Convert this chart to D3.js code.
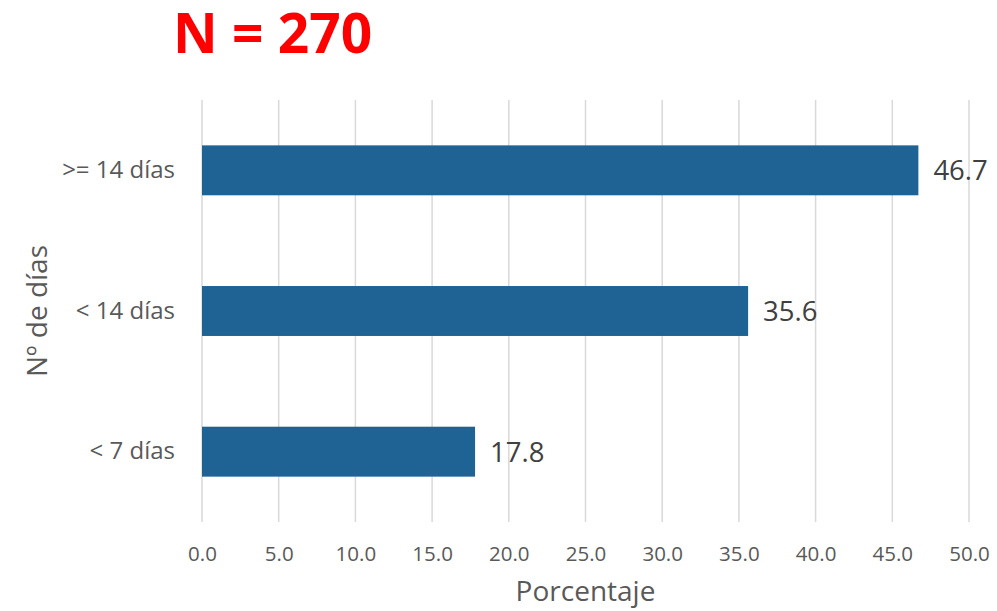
<!DOCTYPE html>
<html>
<head>
<meta charset="utf-8">
<script src="https://cdn.jsdelivr.net/npm/d3@7"></script>
<style>
  body { margin: 0; background: #fff; }
  svg { display: block; }
</style>
</head>
<body>
<svg id="chart" width="997" height="611"></svg>
<script>
document.addEventListener("DOMContentLoaded", function() {

    // Data
    const categories = [">= 14 días", "< 14 días", "< 7 días"];
    const values = [46.7, 35.6, 17.8];
    const xTicks = [0, 5, 10, 15, 20, 25, 30, 35, 40, 45, 50];
    const titleText = "N = 270";
    const xTitle = "Porcentaje";
    const yTitle = "Nº de días";

    // Display settings
    const plot = {left: 202, right: 969, top: 100, bottom: 522};
    const textColor = "#595959";
    const gridColor = "#d9d9d9";
    const barColor = "#1e6394";
    const font = "'Open Sans', sans-serif";

    const svg = d3.select("#chart");

    // Scales
    const x = d3.scaleLinear().domain([0, 50]).range([plot.left, plot.right]);
    const y = d3.scaleBand()
        .domain(categories)
        .range([plot.top, plot.bottom])
        .paddingInner(0.645)
        .paddingOuter(0.3225);

    // Gridlines
    svg.append("g")
        .selectAll("line")
        .data(xTicks)
        .join("line")
        .attr("x1", d => x(d))
        .attr("x2", d => x(d))
        .attr("y1", plot.top)
        .attr("y2", plot.bottom)
        .attr("stroke", gridColor)
        .attr("stroke-width", 1.5);

    // X tick labels
    const xAxis = svg.append("g")
        .attr("transform", `translate(0,${plot.bottom})`)
        .call(d3.axisBottom(x).tickValues(xTicks).tickFormat(d3.format(".1f")).tickSize(0).tickPadding(24));
    xAxis.select(".domain").remove();
    xAxis.selectAll("text")
        .attr("fill", textColor)
        .style("font-family", font)
        .style("font-size", "20.5px");

    // Y category labels
    const yAxis = svg.append("g")
        .attr("transform", `translate(${plot.left},0)`)
        .call(d3.axisLeft(y).tickSize(0).tickPadding(27));
    yAxis.select(".domain").remove();
    yAxis.selectAll("text")
        .attr("fill", textColor)
        .style("font-family", font)
        .style("font-size", "24px");

    // Bars
    const data = categories.map((c, i) => ({category: c, value: values[i]}));
    svg.append("g")
        .selectAll("rect")
        .data(data)
        .join("rect")
        .attr("x", x(0))
        .attr("y", d => y(d.category))
        .attr("width", d => x(d.value) - x(0))
        .attr("height", y.bandwidth())
        .attr("fill", barColor);

    // Value labels
    svg.append("g")
        .selectAll("text")
        .data(data)
        .join("text")
        .attr("x", d => x(d.value) + 15)
        .attr("y", d => y(d.category) + y.bandwidth() / 2)
        .attr("dy", "0.36em")
        .attr("fill", "#404040")
        .style("font-family", font)
        .style("font-size", "27.5px")
        .text(d => d.value.toFixed(1));

    // Title
    svg.append("text")
        .attr("x", 173)
        .attr("y", 53)
        .attr("fill", "#ff0000")
        .style("font-family", font)
        .style("font-weight", "bold")
        .style("font-size", "55px")
        .text(titleText);

    // Axis titles
    svg.append("text")
        .attr("x", (plot.left + plot.right) / 2)
        .attr("y", 601)
        .attr("text-anchor", "middle")
        .attr("fill", textColor)
        .style("font-family", font)
        .style("font-size", "28px")
        .text(xTitle);

    svg.append("text")
        .attr("transform", `translate(47,311) rotate(-90)`)
        .attr("text-anchor", "middle")
        .attr("fill", textColor)
        .style("font-family", font)
        .style("font-size", "28px")
        .text(yTitle);

});
</script>
</body>
</html>
